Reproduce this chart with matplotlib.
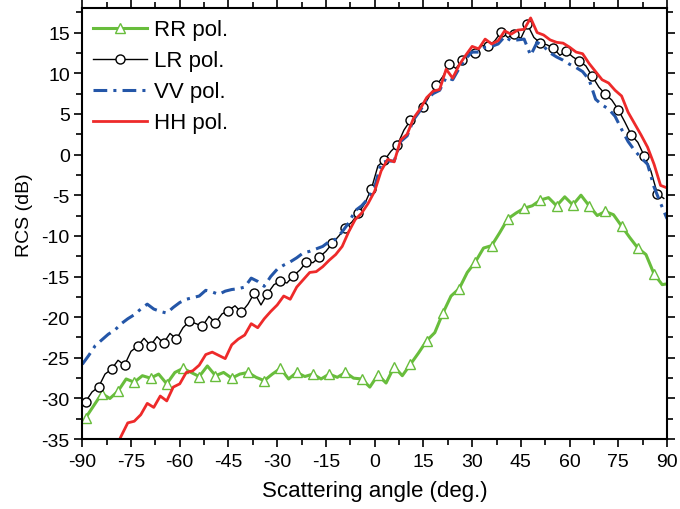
import numpy as np
import matplotlib
matplotlib.use("Agg")
import matplotlib.pyplot as plt
from matplotlib.ticker import MultipleLocator

plt.rcParams['font.family'] = ['Liberation Sans', 'DejaVu Sans']
plt.rcParams['axes.unicode_minus'] = False

# ---------------------------------------------------------------
# data (RCS in dB vs scattering angle)
# ---------------------------------------------------------------
# RR pol: sampled every 2.5 deg starting at -89, plus the end point
rr_angle = np.append(np.arange(-89, 89, 2.5), 90)
rr_rcs = [-32.4, -30.9, -29.4, -30.0, -29.1, -27.6, -28.0, -27.2, -27.5, -27.0,
          -28.2, -26.8, -26.3, -26.8, -27.3, -26.0, -27.2, -26.8, -27.5, -27.0,
          -26.8, -27.4, -27.8, -27.0, -26.3, -27.6, -26.8, -27.3, -27.0, -27.6,
          -27.0, -27.4, -26.8, -27.5, -27.6, -28.6, -27.1, -28.1, -26.1, -27.2,
          -25.8, -24.4, -22.9, -21.9, -19.5, -17.4, -16.5, -14.5, -13.2, -11.5,
          -11.2, -9.6, -7.9, -7.2, -6.6, -6.3, -5.6, -5.3, -6.3, -5.2,
          -6.2, -5.0, -6.3, -7.5, -7.0, -7.4, -8.8, -10.2, -11.5, -12.3,
          -14.7, -16.0, -15.9]

# LR pol: odd degrees -89 .. 89
lr_angle = np.arange(-89, 90, 2)
lr_rcs = [-30.4, -29.2, -28.6, -27.0, -26.4, -25.3, -25.9, -24.2, -23.6, -22.6,
          -23.5, -22.4, -23.2, -22.0, -22.7, -21.3, -20.5, -20.8, -21.1, -19.9,
          -20.7, -19.6, -19.2, -18.6, -19.4, -18.4, -17.0, -18.5, -17.1, -16.0,
          -15.6, -15.8, -14.9, -14.2, -13.2, -13.3, -12.6, -11.9, -10.9, -10.0,
          -9.0, -8.3, -7.2, -6.0, -4.2, -1.4, -0.7, 0.4, 1.2, 3.0,
          4.2, 4.9, 5.9, 7.3, 8.5, 9.6, 11.1, 10.6, 11.6, 12.6,
          12.5, 13.4, 13.3, 14.0, 15.1, 14.4, 14.8, 14.3, 16.0, 14.4,
          13.7, 13.5, 13.1, 12.2, 12.7, 12.0, 11.5, 10.9, 9.6, 8.3,
          7.4, 6.7, 5.5, 4.0, 2.4, 1.5, -0.2, -2.0, -4.8, -5.4]

# VV and HH pol: even degrees -90 .. 90
vh_angle = np.arange(-90, 91, 2)
vv_rcs = [-25.8, -24.7, -23.5, -22.8, -22.1, -21.6, -20.8, -20.2, -19.7, -19.0,
          -18.4, -19.0, -19.3, -19.5, -18.8, -18.2, -17.8, -17.6, -17.4, -16.7,
          -16.9, -17.2, -16.8, -16.6, -16.5, -16.3, -15.2, -15.6, -16.2, -15.0,
          -14.1, -13.6, -13.2, -12.7, -12.1, -11.9, -11.6, -11.3, -10.7, -10.4,
          -9.5, -8.4, -6.9, -6.3, -5.4, -4.0, -1.0, -0.8, -0.8, 1.6,
          2.3, 4.3, 5.4, 6.8, 7.5, 7.9, 9.5, 9.2, 10.6, 11.8,
          12.6, 12.6, 13.2, 13.3, 13.6, 14.5, 14.0, 14.1, 14.2, 12.2,
          13.8, 13.3, 12.5, 12.0, 11.6, 11.1, 10.7, 10.2, 9.2, 6.8,
          6.1, 5.6, 4.7, 3.1, 1.6, 0.5, -0.4, -1.2, -4.0, -6.0,
          -7.9]
hh_rcs = [-39.0, -38.5, -38.0, -37.5, -37.0, -36.3, -34.6, -33.0, -32.8, -32.0,
          -30.6, -31.1, -29.7, -30.3, -28.6, -28.2, -26.8, -26.6, -25.9, -24.6,
          -24.3, -24.7, -25.1, -23.4, -22.7, -22.2, -20.8, -21.3, -20.2, -19.3,
          -18.5, -17.4, -17.8, -16.3, -15.4, -14.5, -14.4, -13.8, -13.0, -12.3,
          -11.3, -9.5, -8.0, -7.2, -6.0, -4.5, -2.0, -0.6, -0.9, 1.8,
          2.5, 4.5, 5.6, 7.0, 7.8, 8.0, 10.5, 9.4, 11.0, 12.2,
          13.3, 13.0, 14.2, 13.6, 14.0, 15.2, 14.8, 15.3, 15.4, 16.8,
          15.0, 14.7, 14.1, 13.8, 13.7, 13.2, 12.6, 12.4, 11.2, 10.2,
          9.2, 8.8, 7.9, 7.2, 5.2, 3.8, 2.4, 0.9, -1.2, -3.8,
          -4.1]

fig = plt.figure(figsize=(6.8, 5.1), dpi=100)
ax = fig.add_axes([0.121, 0.137, 0.860, 0.845])

ax.plot(rr_angle, rr_rcs, color='#68bd3c', lw=2.2, marker='^', ms=7.5,
        mfc='white', mec='#68bd3c', mew=1.0, markevery=list(range(0, 72, 2)),
        label='RR pol.')
ax.plot(lr_angle, lr_rcs, color='black', lw=1.0, marker='o', ms=6.5,
        mfc='white', mec='black', mew=1.0, markevery=2, label='LR pol.')
ax.plot(vh_angle, vv_rcs, color='#2456a8', lw=2.2, ls=(0, (4.5, 2, 1, 2)),
        label='VV pol.')
ax.plot(vh_angle, hh_rcs, color='#ee2a2a', lw=2.0, label='HH pol.')

ax.set_xlim(-90, 90)
ax.set_ylim(-35, 18)
ax.xaxis.set_major_locator(MultipleLocator(15))
ax.xaxis.set_minor_locator(MultipleLocator(7.5))
ax.yaxis.set_major_locator(MultipleLocator(5))
ax.yaxis.set_minor_locator(MultipleLocator(2.5))
ax.tick_params(which='both', direction='out', top=True, right=True, width=1.2,
               labelsize=14)
ax.tick_params(which='major', length=6)
ax.tick_params(which='minor', length=4)
ax.tick_params(axis='x', which='major', pad=4)
ax.tick_params(axis='y', which='major', pad=3)
for s in ax.spines.values():
    s.set_linewidth(1.5)

ax.set_xlabel('Scattering angle (deg.)', fontsize=16, labelpad=7)
ax.set_ylabel('RCS (dB)', fontsize=14)
ax.yaxis.set_label_coords(-0.084, 0.522)

ax.legend(loc='upper left', frameon=False, fontsize=16, handlelength=2.4,
          labelspacing=0.45, handletextpad=0.32, borderaxespad=0.2,
          borderpad=0.3)

fig.savefig('out.png', dpi=100)
